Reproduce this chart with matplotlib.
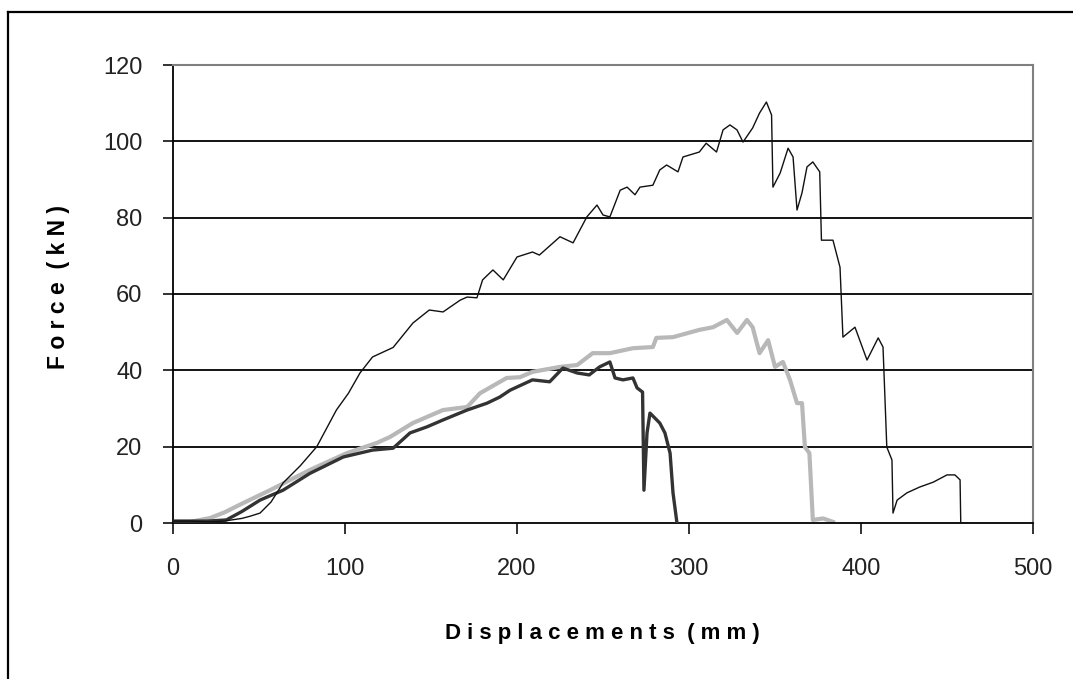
import matplotlib
matplotlib.use("Agg")
import matplotlib.pyplot as plt
from matplotlib.lines import Line2D

# Specimen A (thin black line)
a_x = [0, 10, 20, 30, 34, 40, 45, 50.6, 57, 64, 74, 83.6, 95, 102, 108.7, 116, 128, 139.5, 149, 157, 167,
       171, 176.7, 180, 186, 192, 200, 209, 213, 225, 232.6, 240.6, 246.5, 250, 254, 260, 264, 268.6, 271.5,
       279, 283, 287, 293.6, 296.5, 306, 310, 316, 319.8, 323.8, 327.9, 331.4, 337, 341, 345, 348, 348.8,
       353, 357.6, 360.5, 362.8, 365.7, 368.6, 372, 376, 377, 383.7, 387.8, 389.5, 396.5, 403.5, 410, 412.8,
       415, 418, 418.6, 421, 426.7, 434, 442, 450, 454.6, 457.6, 458, 462]
a_y = [0.5, 0.5, 0.3, 0.5, 0.8, 1.2, 1.8, 2.6, 5.5, 10.5, 15, 20, 29.6, 34, 39.3, 43.5, 46, 52.4, 55.8, 55.3, 58.4,
       59.2, 59, 63.7, 66.3, 63.7, 69.7, 71, 70.2, 75, 73.4, 80.2, 83.3, 80.7, 80.2, 87.2, 88, 86, 88,
       88.5, 92.5, 93.8, 92, 95.9, 97.2, 99.5, 97.2, 103, 104.3, 103, 99.8, 103.5, 107.4, 110.3, 106.9, 88,
       91.7, 98.2, 95.9, 82, 86.5, 93.3, 94.6, 92, 74.1, 74.1, 67, 48.7, 51.3, 42.7, 48.5, 46.1,
       19.9, 16.5, 2.6, 6, 7.9, 9.4, 10.7, 12.6, 12.6, 11.3, 0, 0]

# Specimen B (dark thick line)
b_x = [0, 10, 20, 31, 40, 50.6, 64, 79.6, 99, 116, 128, 137.8, 147.7, 157, 171, 182.6, 190, 196, 209,
       219, 226.7, 235, 242, 248, 254, 257, 261.6, 267.4, 269.8, 273, 273.8, 275.6, 277.3, 283, 286, 289,
       290.7, 293]
b_y = [0.5, 0.5, 0.5, 0.8, 3, 6, 8.6, 13, 17.3, 19.1, 19.6, 23.6, 25.2, 27, 29.6, 31.4, 33, 34.8, 37.5,
       37, 40.6, 39.3, 38.8, 40.9, 42.2, 38, 37.5, 38, 35.4, 34.3, 8.6, 23.6, 28.8, 26.2, 23.6, 18.3,
       7.9, 0]

# Specimen C (light grey line)
c_x = [0, 10, 21.5, 30, 40.7, 56.4, 79.6, 101, 118.6, 126, 139.5, 157, 171, 178.5, 194, 201.7, 209, 225,
       235, 244, 254, 267.4, 279, 281, 290.7, 306, 314, 322, 328, 333.7, 337, 341, 346, 350, 354.6, 358.7,
       362.8, 365.7, 367.4, 370, 372, 378, 383.7]
c_y = [0.3, 0.3, 1.3, 2.8, 5.2, 8.6, 13.9, 18.3, 21, 22.5, 26.2, 29.6, 30.4, 34, 38, 38.2, 39.6, 40.9,
       41.4, 44.5, 44.5, 45.8, 46.1, 48.5, 48.7, 50.6, 51.3, 53.2, 49.8, 53.2, 51.3, 44.5, 47.9, 40.9, 42.2, 37.5,
       31.4, 31.4, 19.9, 18.3, 0.8, 1.2, 0.3]

x_ticks = [0, 100, 200, 300, 400, 500]
y_ticks = [0, 20, 40, 60, 80, 100, 120]
x_title = 'D i s p l a c e m e n t s  ( m m )'
y_title = 'F o r c e  ( k N )'

plt.rcParams['font.family'] = ['Liberation Sans', 'DejaVu Sans']

fig = plt.figure(figsize=(10.73, 6.79), dpi=100)
ax = fig.add_axes([173/1073, 1 - 523/679, (1033 - 173)/1073, (523 - 65)/679])

for yv in y_ticks[1:]:
    ax.axhline(yv, color='black', lw=1.3, zorder=1)

ax.plot(c_x, c_y, color='#b8b8b8', lw=3.0, zorder=2)
ax.plot(b_x, b_y, color='#333333', lw=2.4, zorder=3)
ax.plot(a_x, a_y, color='#111111', lw=1.0, zorder=4)

ax.set_xlim(0, 500)
ax.set_ylim(0, 120)
ax.set_xticks(x_ticks)
ax.set_yticks(y_ticks)
ax.tick_params(direction='out', width=1.3, labelsize=17, colors='#222222')
ax.tick_params(axis='x', length=8, pad=17)
ax.tick_params(axis='y', length=7, pad=15)

for s in ['left', 'bottom']:
    ax.spines[s].set_color('black')
    ax.spines[s].set_linewidth(1.3)
for s in ['right', 'top']:
    ax.spines[s].set_color('#808080')
    ax.spines[s].set_linewidth(1.5)

fig.text(602/1073, 1 - 633/679, x_title, fontsize=16, fontweight='bold', ha='center', va='center')
fig.text(58/1073, 1 - 287/679, y_title, fontsize=16.5, fontweight='bold', ha='center', va='center',
         rotation=90)

# outer frame (left and top edges)
fig.add_artist(Line2D([8/1073, 8/1073], [0, 1 - 12/679], color='black', lw=1.6, transform=fig.transFigure))
fig.add_artist(Line2D([8/1073, 1], [1 - 12/679, 1 - 12/679], color='black', lw=1.6, transform=fig.transFigure))

fig.savefig('out.png', dpi=100)
